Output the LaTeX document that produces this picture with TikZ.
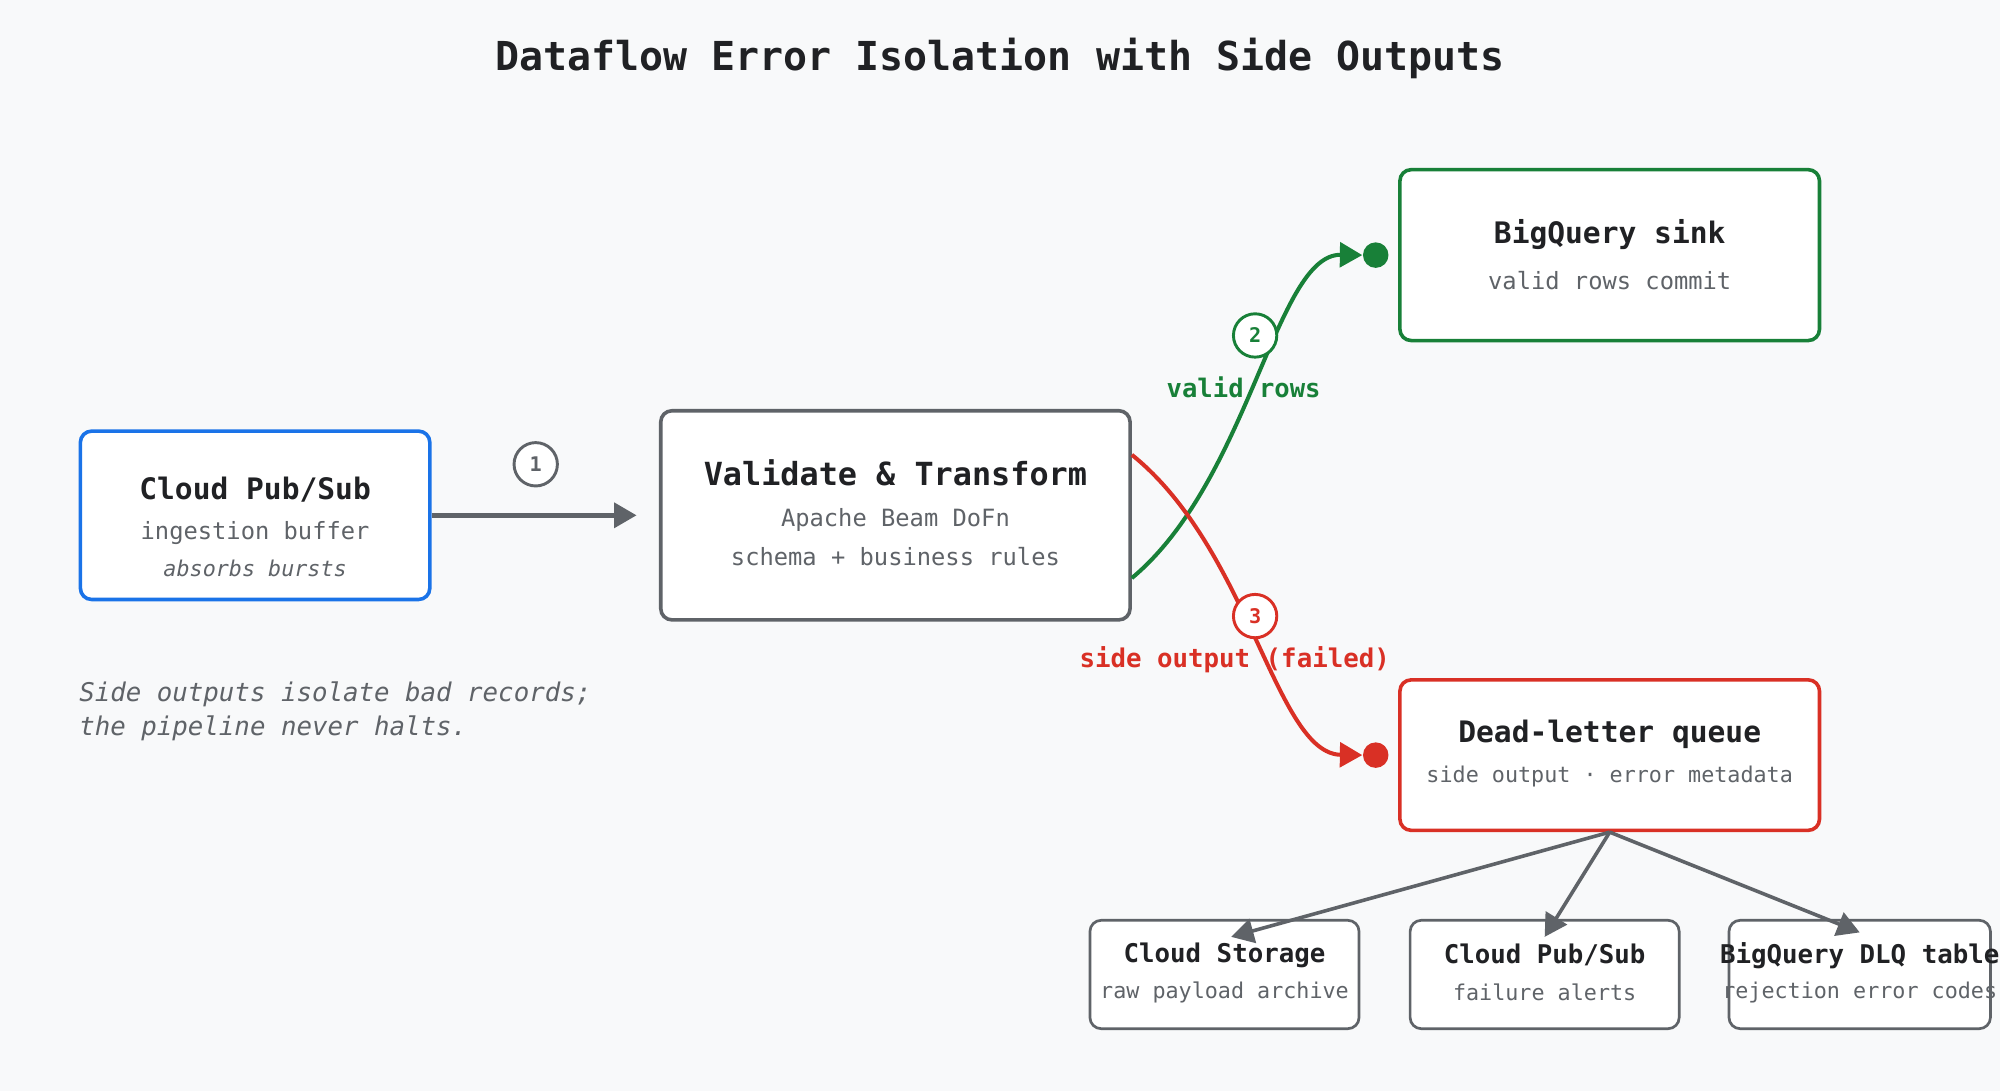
\documentclass[tikz,border=0pt]{standalone}
\usepackage{fontspec}
\setmainfont{DejaVu Sans Mono}
\setmonofont{DejaVu Sans Mono}
\usetikzlibrary{arrows.meta,positioning}
\definecolor{bg}{HTML}{F8F9FA}
\definecolor{gblue}{HTML}{1A73E8}
\definecolor{ggray}{HTML}{5F6368}
\definecolor{ggreen}{HTML}{188038}
\definecolor{gred}{HTML}{D93025}
\definecolor{txt}{HTML}{202124}
\definecolor{sub}{HTML}{5F6368}
\newcommand{\fs}[1]{\fontsize{#1}{#1}\selectfont}
\begin{document}
\begin{tikzpicture}[x=0.02cm,y=-0.02cm,
 box/.style={draw,rounded corners=5pt,fill=white,line width=1.6pt,inner sep=0pt},
 sbox/.style={draw=ggray,rounded corners=5pt,fill=white,line width=1.2pt,inner sep=0pt,minimum width=4.22cm,minimum height=1.7cm},
 ttl/.style={text=txt,font=\bfseries\fs{13.2pt}},
 st/.style={text=sub,font=\fs{10.6pt}},
 num/.style={circle,draw,line width=1.3pt,fill=white,minimum size=0.68cm,inner sep=0pt,font=\bfseries\fs{9pt}},
 arr/.style={line width=2pt,-{Triangle[length=10pt,width=11pt]}},
]
\fill[bg] (0,0) rectangle (1568,855);
\useasboundingbox (0,0) rectangle (1568,855);
\node[text=txt,font=\bfseries\fs{17.8pt}] (title) at (784,46) {Dataflow Error Isolation with Side Outputs};

\node[box,draw=gblue,minimum width=5.48cm,minimum height=2.64cm] (ps) at (200,404) {};
\node[ttl] (pst) at (200,384) {Cloud Pub/Sub};
\node[st] (pss) at (200,418) {ingestion buffer};
\node[st,font=\itshape\fs{9.7pt}] (psi) at (200,446) {absorbs bursts};

\node[box,draw=ggray,minimum width=7.36cm,minimum height=3.28cm] (val) at (702,404) {};
\node[ttl,font=\bfseries\fs{14.2pt}] (valt) at (702,371) {Validate \& Transform};
\node[st] (vals1) at (702,408) {Apache Beam DoFn};
\node[st] (vals2) at (702,436) {schema + business rules};

\node[box,draw=ggreen,minimum width=6.58cm,minimum height=2.68cm] (bq) at (1262,200) {};
\node[ttl] (bqt) at (1262,184) {BigQuery sink};
\node[st] (bqs) at (1262,220) {valid rows commit};

\node[box,draw=gred,minimum width=6.58cm,minimum height=2.36cm] (dlq) at (1262,592) {};
\node[ttl] (dlqt) at (1262,576) {Dead-letter queue};
\node[st,font=\fs{9.7pt}] (dlqs) at (1262,609) {side output · error metadata};

\node[sbox] (cs) at (960,764) {};
\node[ttl,font=\bfseries\fs{11.5pt}] at (960,749) {Cloud Storage};
\node[st,font=\fs{9.7pt}] at (960,778) {raw payload archive};
\node[sbox] (cp) at (1211,764) {};
\node[ttl,font=\bfseries\fs{11.5pt}] at (1211,749) {Cloud Pub/Sub};
\node[st,font=\fs{9.7pt}] at (1211,778) {failure alerts};
\node[sbox,minimum width=4.1cm] (bd) at (1458,764) {};
\node[ttl,font=\bfseries\fs{11.5pt}] at (1458,749) {BigQuery DLQ table};
\node[st,font=\fs{9.7pt}] at (1458,778) {rejection error codes};

\node[text=sub,font=\itshape\fs{11.5pt},align=left,anchor=north west] (note) at (56,528) {Side outputs isolate bad records;\\[4pt]the pipeline never halts.};

% edge 1
\draw[arr,draw=ggray,fill=ggray] (ps.east) -- ([xshift=-10]val.west);
\node[num,draw=ggray,text=ggray] (n1) at (420,364) {1};

% green
\coordinate (gs) at ([yshift=-28]val.east);
\coordinate (ge) at ([xshift=-10]bq.west);
\draw[line width=1.8pt,ggreen,-{Triangle[length=10pt,width=11pt]}] (gs) .. controls (980,376) and (1000,199) .. ([xshift=-6]ge);
\fill[ggreen] (ge) circle (10);
\node[num,draw=ggreen,text=ggreen] (n2) at (984,263) {2};
\node[text=ggreen,font=\bfseries\fs{11.4pt}] (l2) at (975,304) {valid rows};

% red
\coordinate (rs) at ([yshift=27]val.east);
\coordinate (re) at ([xshift=-10]dlq.west);
\draw[line width=1.8pt,gred,-{Triangle[length=10pt,width=11pt]}] (rs) .. controls (980,431) and (1000,591) .. ([xshift=-6]re);
\fill[gred] (re) circle (10);
\node[num,draw=gred,text=gred] (n3) at (984,483) {3};
\node[text=gred,font=\bfseries\fs{11.5pt}] (l3) at (968,517) {side output (failed)};

% fan-out
\draw[arr,ggray,line width=1.6pt] (dlq.south) -- ([xshift=3,yshift=-8]cs.north);
\draw[arr,ggray,line width=1.6pt] (dlq.south) -- ([yshift=-8]cp.north);
\draw[arr,ggray,line width=1.6pt] (dlq.south) -- ([yshift=-6]bd.north);
\end{tikzpicture}
\end{document}
